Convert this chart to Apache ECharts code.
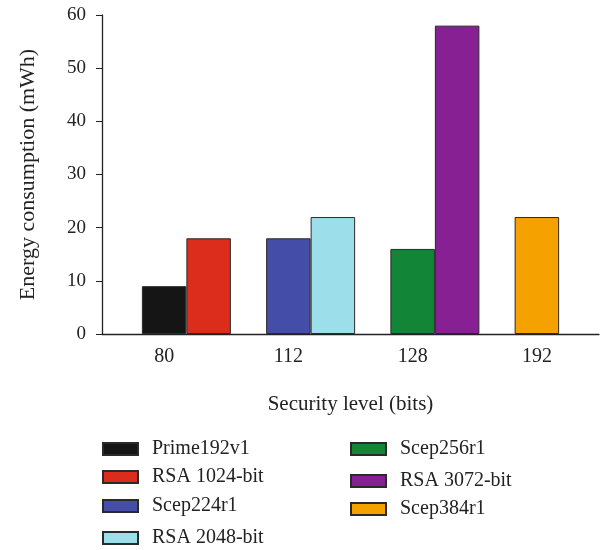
<!DOCTYPE html>
<html><head><meta charset="utf-8">
<script src="https://cdn.jsdelivr.net/npm/echarts@6/dist/echarts.min.js"></script>
<style>html,body{margin:0;padding:0;background:#fff}#c{width:604px;height:550px}</style>
</head><body><div id="c"></div>
<script>
const categories = ['80', '112', '128', '192'];
const seriesNames = ['Prime192v1', 'RSA 1024-bit', 'Scep224r1', 'RSA 2048-bit', 'Scep256r1', 'RSA 3072-bit', 'Scep384r1'];
const seriesColors = ['#151515', '#dc2c1c', '#444ea8', '#9cdfea', '#138536', '#862093', '#f5a200'];
const seriesCategory = ['80', '80', '112', '112', '128', '128', '192'];
const seriesSlot = ['a', 'b', 'a', 'b', 'a', 'b', 'a'];
const seriesValues = [9, 18, 18, 22, 16, 58, 22];
const yTicks = [0, 10, 20, 30, 40, 50, 60];

const FONT = 'Liberation Serif';
const chart = echarts.init(document.getElementById('c'), null, {renderer: 'canvas'});

const series = [{
  name: '_pad', type: 'bar', stack: 'pad', barWidth: 44.5, barGap: '0%',
  data: categories.map(() => '-')
}];
seriesNames.forEach((n, i) => {
  series.push({
    name: n, type: 'bar', stack: seriesSlot[i], barWidth: 44.5, barGap: '0%',
    itemStyle: {color: seriesColors[i], borderColor: '#2a2a2a', borderWidth: 1},
    emphasis: {disabled: true},
    data: categories.map(c => c === seriesCategory[i] ? seriesValues[i] : '-')
  });
});

const legendPos = [
  {left: 102, cy: 449}, {left: 102, cy: 477}, {left: 102, cy: 506}, {left: 102, cy: 538},
  {left: 350, cy: 449}, {left: 350, cy: 481}, {left: 350, cy: 509}
];
const legends = seriesNames.map((n, i) => ({
  data: [n], left: legendPos[i].left, top: legendPos[i].cy - 10, orient: 'vertical', padding: 0,
  icon: 'rect', itemWidth: 35, itemHeight: 12, selectedMode: false,
  textStyle: {fontFamily: FONT, fontSize: 20, color: '#222', padding: [0, 0, 0, 9], lineHeight: 20}
}));

chart.setOption({
  animation: false,
  backgroundColor: '#fff',
  legend: legends,
  grid: {left: 102, right: 5, top: 15, bottom: 216, containLabel: false},
  xAxis: {
    type: 'category', data: categories,
    axisLine: {lineStyle: {color: '#222', width: 1.3}},
    axisTick: {alignWithLabel: true, length: 5, lineStyle: {color: '#222'}},
    axisLabel: {fontFamily: FONT, fontSize: 20, color: '#222', margin: 13},
    name: 'Security level (bits)', nameLocation: 'middle', nameGap: 60,
    nameTextStyle: {fontFamily: FONT, fontSize: 21, color: '#222'}
  },
  yAxis: {
    type: 'value', min: yTicks[0], max: yTicks[yTicks.length - 1], interval: 10,
    splitLine: {show: false},
    axisLine: {show: true, lineStyle: {color: '#222', width: 1.3}},
    axisTick: {show: true, length: 6, lineStyle: {color: '#222'}},
    axisLabel: {fontFamily: FONT, fontSize: 19, color: '#222', margin: 16},
    name: 'Energy consumption (mWh)', nameLocation: 'middle', nameGap: 63, nameRotate: 90,
    nameTextStyle: {fontFamily: FONT, fontSize: 22, color: '#222'}
  },
  series: series
});
</script></body></html>
